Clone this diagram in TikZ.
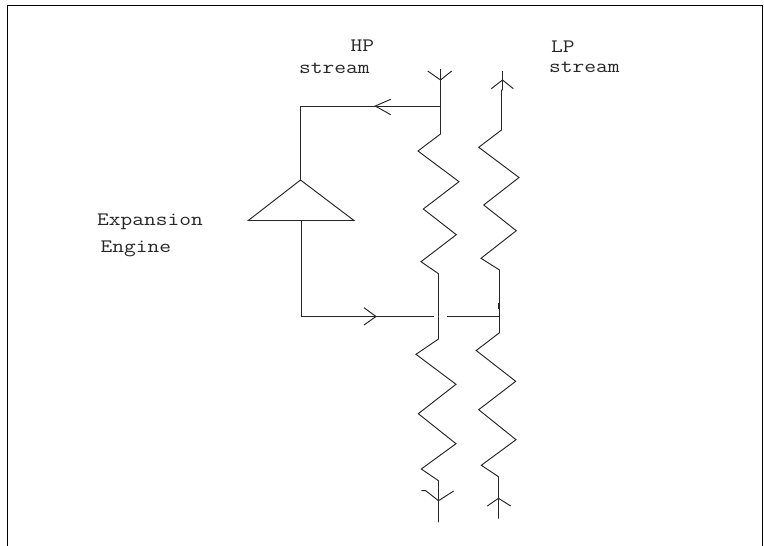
\documentclass[tikz,border=0pt]{standalone}
\usepackage{fontspec}
\setmonofont[FakeStretch=1.2]{Latin Modern Mono}
\tikzset{
    streamlabel/.style={inner sep=0pt, anchor=base west, font=\ttfamily\fontsize{19}{24}\selectfont, text=black!85},
    pipe/.style={draw=black!85, line width=0.95pt}
}
\begin{document}
\begin{tikzpicture}[x=1pt, y=-1pt]
            \useasboundingbox (0,0) rectangle (764,546);

            % Frame
            \coordinate (frameLeft) at (7.5,546);
            \coordinate (frameTopLeft) at (7.5,5.5);
            \coordinate (frameTopRight) at (762,5.5);
            \coordinate (frameRight) at (762,546);
            \draw[pipe, draw=black] (frameLeft) -- (frameTopLeft) -- (frameTopRight) -- (frameRight);

            % Labels
            \node[streamlabel] at (350.5,52) (hpLabel) {HP};
            \node[streamlabel] at (299,73) (hpStream) {stream};
            \node[streamlabel] at (551,52.5) (lpLabel) {LP};
            \node[streamlabel] at (549,72) (lpStream) {stream};
            \node[streamlabel] at (97,225) (expansionLabel) {Expansion};
            \node[streamlabel] at (100.5,252) (engineLabel) {Engine};

            % Junctions
            \coordinate (hpTop) at (440.5,69);
            \coordinate (hpTee) at (440.5,106);
            \coordinate (hpCold) at (438.5,316.5);
            \coordinate (lpTee) at (499.5,316);
            \coordinate (engineTop) at (300.5,180);
            \coordinate (engineBottom) at (301.5,220.5);
            \coordinate (engineLeft) at (248.3,220.5);
            \coordinate (engineRight) at (354,220.5);
            \coordinate (cornerTop) at (300.5,106);
            \coordinate (cornerBottom) at (301.5,316.5);
            \coordinate (inletEnd) at (434,316.5);
            \coordinate (bridgeStart) at (447.3,316);

            % HP stream, upper and lower coil
            \draw[pipe] (hpTop) -- (hpTee) -- (440.5,134) -- (418,151) -- (459,181.7) -- (423.3,209) -- (456.3,234.7) -- (421,261.7) -- (438.5,273.7) -- (hpCold);
            \draw[pipe] (hpCold) -- (438.5,339) -- (416,354.3) -- (456,384.3) -- (418.3,413.7) -- (456,443.7) -- (421.3,469) -- (438.5,480.7) -- (438.5,522.3);

            % LP stream, upper and lower coil
            \draw[pipe] (502.5,71) -- (502.5,90) -- (501.5,90) -- (501.5,130) -- (478.7,147.3) -- (519,177.5) -- (483.7,205) -- (516.3,230.7) -- (481,258.3) -- (499.5,270) -- (lpTee);
            \draw[pipe] (lpTee) -- (499.5,332.7) -- (476.2,350.5) -- (515.7,381.3) -- (478.7,409.7) -- (516,439.7) -- (481.3,465.3) -- (498.5,476.7) -- (498.5,518.7);
            \draw[pipe, line width=1.8pt] (499.2,303) -- (499.2,309);

            % Expansion engine
            \draw[pipe] (engineLeft) -- (engineTop) -- (engineRight) -- cycle;
            \draw[pipe] (hpTee) -- (cornerTop) -- (engineTop);
            \draw[pipe] (engineBottom) -- (cornerBottom) -- (inletEnd);
            \draw[pipe] (bridgeStart) -- (lpTee);

            % Arrow barbs
            \draw[pipe] (427.7,71) -- (440.5,80) -- (451.7,71);
            \draw[pipe] (491.3,88.7) -- (502.5,80) -- (513.3,88.7);
            \draw[pipe] (390.7,99.3) -- (375.3,106) -- (390.7,114.7);
            \draw[pipe] (364,307.7) -- (376,316.5) -- (364,325);
            \draw[pipe] (421.3,490.7) -- (425.7,490.7) -- (438.5,500.7) -- (453.7,491);
            \draw[pipe] (487.3,506) -- (498.5,498.3) -- (510.7,506);
        \end{tikzpicture}
\end{document}
